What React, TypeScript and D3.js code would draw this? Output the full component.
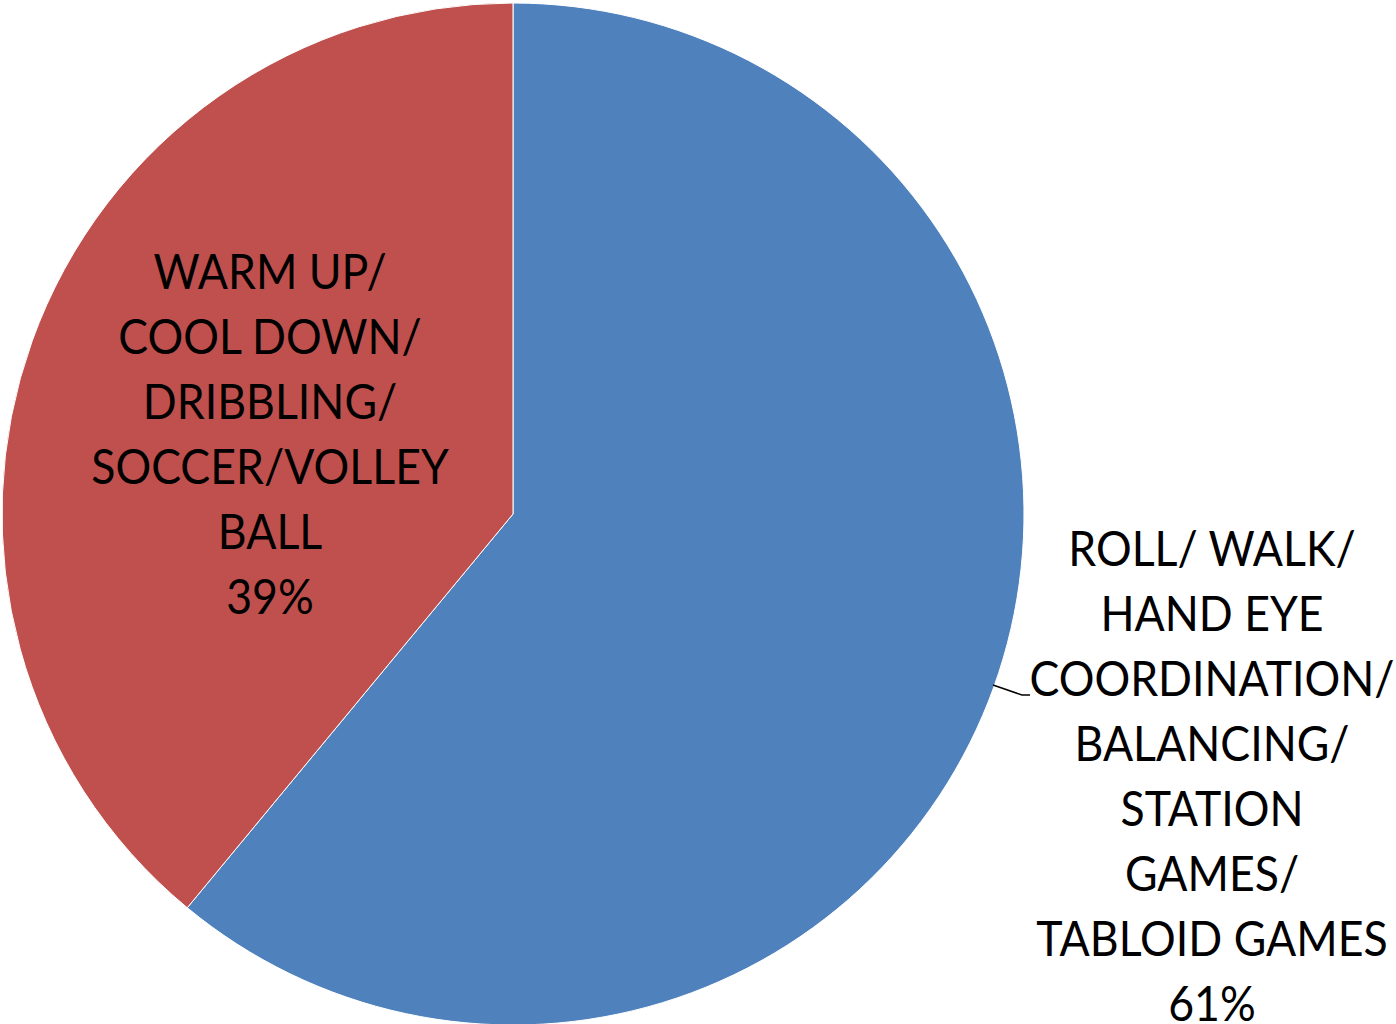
import React from "react";
import * as d3 from "d3";

const categories = [
  "ROLL/ WALK/ HAND EYE COORDINATION/ BALANCING/ STATION GAMES/ TABLOID GAMES",
  "WARM UP/ COOL DOWN/ DRIBBLING/ SOCCER/VOLLEY BALL",
];
const values = [61, 39];
const labelLines = [
  ["ROLL/ WALK/", "HAND EYE", "COORDINATION/", "BALANCING/", "STATION", "GAMES/", "TABLOID GAMES", "61%"],
  ["WARM UP/", "COOL DOWN/", "DRIBBLING/", "SOCCER/VOLLEY", "BALL", "39%"],
];
const colors = ["#4F81BD", "#C0504D"];

export default function App() {
  const W = 1396, H = 1024;
  const cx = 513, cy = 514, r = 511;
  const pie = d3.pie<number>().sort(null).value((d) => d);
  const arcs = pie(values);
  const arc = d3.arc<d3.PieArcDatum<number>>().innerRadius(0).outerRadius(r);
  const labelPos = [
    { x: 1212, y: 566 },
    { x: 270, y: 289 },
  ];
  const lh = 65;
  return (
    <svg width={W} height={H} style={{ position: "absolute", left: 0, top: 0, background: "#fff" }}
      fontFamily="Lato, 'Open Sans', sans-serif">
      <g transform={`translate(${cx},${cy})`}>
        {arcs.map((a, i) => (
          <path key={categories[i]} d={arc(a) || ""} fill={colors[i]} stroke="#fff" strokeWidth={1} />
        ))}
      </g>
      <polyline points="993,685 1022,695 1030,695" fill="none" stroke="#000" strokeWidth={1.5} />
      {labelLines.map((lines, i) => (
        <g key={i} transform={`translate(${labelPos[i].x},${labelPos[i].y}) scale(0.93,1)`}>
          <text textAnchor="middle" fontSize={48} fill="#000">
            {lines.map((l, j) => (
              <tspan key={j} x={0} y={j * lh}>{l}</tspan>
            ))}
          </text>
        </g>
      ))}
    </svg>
  );
}
